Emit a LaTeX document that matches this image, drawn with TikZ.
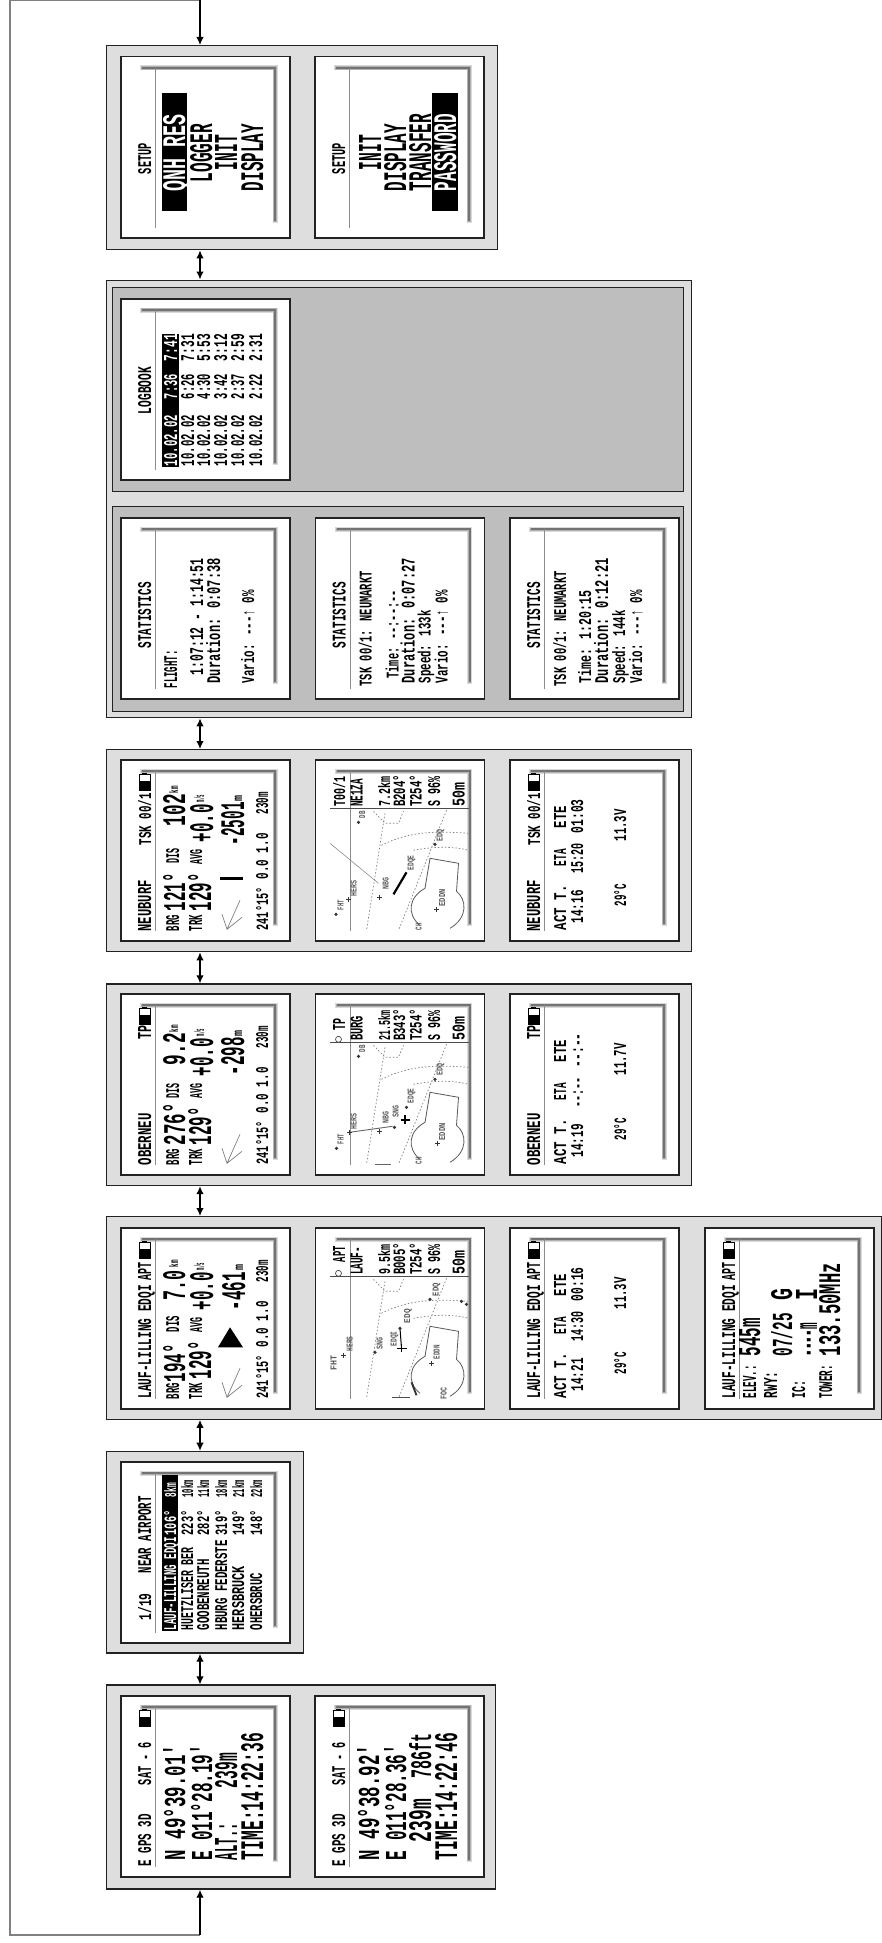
\documentclass[tikz,border=0pt]{standalone}
\usepackage{fontspec}
\usepackage{graphicx}
\newfontfamily\lcdf{Liberation Mono}
\usetikzlibrary{arrows.meta}
\definecolor{grpfill}{HTML}{DEDEDE}
\definecolor{innerfill}{HTML}{BEBEBE}
\definecolor{edgecol}{HTML}{222222}
\tikzset{
  groupbox/.style={draw=edgecol,line width=1.4pt,anchor=north west,inner sep=0pt,fill=grpfill},
  innerbox/.style={groupbox,fill=innerfill},
  screenbox/.style={draw=edgecol,line width=1.5pt,fill=white,anchor=north west,inner sep=0pt,minimum width=169pt,minimum height=181pt},
  lcd/.style={rotate=90,anchor=base west,inner sep=0pt,outer sep=0pt,font=\lcdf},
  link/.style={line width=1.3pt,black,{Latex[length=8pt,width=7.5pt]}-{Latex[length=8pt,width=7.5pt]}},
  linkin/.style={line width=1.3pt,black,-{Latex[length=8pt,width=7.5pt]}},
  loopline/.style={line width=1.7pt,black!50},
  thinmap/.style={black!45,line width=.6pt},
  dotmap/.style={black!50,line width=.7pt,dash pattern=on 1.5pt off 2pt},
  areamap/.style={black!65,line width=.8pt},
  wind/.style={black!50,line width=.7pt},
  mapdot/.style={fill=black!80}
}
\newcount\tn
% text: baseline dx, start dy, length, cap height
\newcommand{\Tx}[5]{\global\advance\tn by 1\relax
  \node[lcd] (t\the\tn) at (#1,#2) {\resizebox{#3pt}{#4pt}{\bfseries\vphantom{H}#5}};}
\newcommand{\Bx}[5]{\global\advance\tn by 1\relax
  \node[lcd] (t\the\tn) at (#1,#2) {\resizebox{#3pt}{#4pt}{\bfseries\vphantom{H}#5}};}
\newcommand{\Ml}[4]{\global\advance\tn by 1\relax
  \node[lcd,text=black!65] (t\the\tn) at (#1,#2) {\resizebox{#3pt}{6pt}{\bfseries\vphantom{H}#4}};}
\newcommand{\Scr}[4]{%
  \node[screenbox] (#1) at (#2,#3) {};
  \begin{scope}[shift={(#2,#3)}]
    \draw[black!15,line width=5pt] (20,12) -- (155,12) -- (155,167);
    \draw[black!30,line width=3.6pt] (21,12) -- (155,12) -- (155,166);
    \draw[black!55,line width=2pt] (22,12) -- (155,12) -- (155,165);
    \draw[black!45,line width=.7pt] (35.5,12) -- (35.5,172);
    #4
  \end{scope}}
\newcommand{\Batt}[1]{%
  \draw[black,line width=.7pt] (19,#1) rectangle (30,#1+16);
  \fill[black] (19,#1+7) rectangle (30,#1+16);
  \fill[black] (22,#1-1.5) rectangle (27,#1);}
\newcommand{\Hneu}{\Bx{31}{172}{51}{13}{NEUBURF}\Bx{31}{86}{52}{13}{TSK 00/1}\Batt{15}}
\newcommand{\Hobe}{\Bx{31}{172}{52}{13}{OBERNEU}\Bx{31}{46}{14}{13}{TP}\Batt{15}}
\newcommand{\Hlau}{\Bx{31}{171}{113}{13}{LAUF-LILLING EDQI}\Bx{31}{53}{18}{13}{APT}\Batt{15}}
% common lower part of a navigation screen
\newcommand{\NavCommon}{%
  \Bx{59}{172}{16}{13}{BRG}
  \Bx{82}{172}{16}{13}{TRK}
  \Tx{91}{152}{38}{23}{129°}
  \Bx{82}{105}{15}{12}{AVG}
  \Tx{93}{83}{38}{23}{+0.0}
  \Bx{84}{43}{7}{10}{m/s}
  \Bx{148}{171}{43}{12}{241°15°}
  \Bx{148}{120}{46}{12}{0.0 1.0}
  \Bx{148}{55}{22}{12}{230m}
  \draw[wind] (120,141) -- (107,170) (102,155) -- (107,170) -- (122,158);}
\newcommand{\Info}[5]{%
  \Bx{57}{171}{45}{12}{ACT T.}
  \Bx{57}{107}{17}{12}{ETA}
  \Bx{57}{69}{22}{12}{ETE}
  \Bx{74}{164}{33}{12}{#1}
  \Bx{74}{114}{30}{12}{#2}
  \Bx{74}{74}{34}{12}{#3}
  \Bx{117}{147}{22}{12}{#4}
  \Bx{117}{82}{32}{12}{#5}}
\newcommand{\MapTop}[5]{%
  \draw[black!70,line width=.8pt] (15.5,49) -- (154,49);
  \Bx{75.5}{47.5}{30}{12}{#1}
  \Bx{90.5}{47.5}{32}{12}{#2}
  \Bx{107}{47.5}{32}{12}{#3}
  \Bx{125.5}{47.5}{30}{12}{#4}
  \Bx{150}{47.5}{24}{12}{#5}}
\newcommand{\MapBase}{%
  \draw[dotmap] (70.5,54) -- (52,171);
  \draw[dotmap] (132,51) -- (84,171);
  \draw[dotmap] (67,86) .. controls (96,71) and (125,72) .. (154,74);
  \draw[dotmap] (99,91) .. controls (120,87) and (140,87) .. (154,91);
  \draw[dotmap] (59,52) -- (70.5,64) -- (84,64) -- (89,52);
  \draw[areamap] (105.5,166) .. controls (92,155) and (94,138) .. (110.5,129) -- (115.5,99) -- (144,104) -- (142,132) .. controls (152,140) and (154,158) .. (135.5,169);}
\newcommand{\Dot}[2]{\fill[mapdot] (#1,#2) circle (1.8pt);}
\newcommand{\Crs}[2]{\draw[black!80,line width=.7pt] (#1-2.5,#2) -- (#1+2.5,#2) (#1,#2-2.5) -- (#1,#2+2.5);}
\begin{document}
\begin{tikzpicture}[x=1pt,y=-1pt]
\useasboundingbox (0,0) rectangle (882,1943);
\fill[white] (0,0) rectangle (882,1943);
\coordinate (ax) at (200,0);
\coordinate (loopTL) at (10,0);
\coordinate (loopBL) at (10,1935);
\coordinate (loopBA) at (200,1935);
% groups
\node[groupbox,minimum width=391pt,minimum height=204pt] (gSetup) at (106,45) {};
\node[groupbox,minimum width=585pt,minimum height=437.5pt] (gLog) at (106,279.5) {};
\node[innerbox,minimum width=571pt,minimum height=204.5pt] (gLogA) at (112,286.5) {};
\node[innerbox,minimum width=571pt,minimum height=205.5pt] (gLogB) at (112,505.5) {};
\node[groupbox,minimum width=585pt,minimum height=202pt] (gNeu) at (106,749) {};
\node[groupbox,minimum width=585pt,minimum height=201.5pt] (gObe) at (106,983.3) {};
\node[groupbox,minimum width=775pt,minimum height=202.5pt] (gLau) at (106,1216) {};
\node[groupbox,minimum width=196.7pt,minimum height=201.6pt] (gNear) at (106,1450.7) {};
\node[groupbox,minimum width=389pt,minimum height=204pt] (gGps) at (106,1684.3) {};
% connectors
\draw[loopline] (ax) -- (loopTL) -- (loopBL) -- (loopBA);
\draw[linkin] (ax) -- (ax |- gSetup.north);
\draw[linkin] (loopBA) -- (ax |- gGps.south);
\draw[link] (ax |- gSetup.south) -- (ax |- gLog.north);
\draw[link] (ax |- gLog.south) -- (ax |- gNeu.north);
\draw[link] (ax |- gNeu.south) -- (ax |- gObe.north);
\draw[link] (ax |- gObe.south) -- (ax |- gLau.north);
\draw[link] (ax |- gLau.south) -- (ax |- gNear.north);
\draw[link] (ax |- gNear.south) -- (ax |- gGps.north);
% SETUP
\Scr{sSetA}{120}{56}{
  \Bx{31}{118}{31}{13}{SETUP}
  \fill[black] (42,37) rectangle (67,155);
  \Tx{65}{135}{77}{22}{\color{white}QNH RES}
  \Tx{92}{126}{58}{22}{LOGGER}
  \Tx{117}{114}{35}{22}{INIT}
  \Tx{143}{135}{67}{22}{DISPLAY}
}
\Scr{sSetB}{314}{56}{
  \Bx{31}{118}{31}{13}{SETUP}
  \Tx{67}{114}{35}{22}{INIT}
  \Tx{92}{135}{67}{22}{DISPLAY}
  \Tx{117}{135}{77}{22}{TRANSFER}
  \fill[black] (118,37) rectangle (144,155);
  \Tx{142}{135}{77}{22}{\color{white}PASSWORD}
}
% LOGBOOK
\Scr{sLog}{120}{298}{
  \Bx{31}{116}{47}{13}{LOGBOOK}
  \fill[black] (42,36) rectangle (59,169);
  \Bx{57}{168}{51}{13}{\color{white}10.02.02}
  \Bx{57}{101}{25}{13}{\color{white}7:36}
  \Bx{57}{63}{27}{13}{\color{white}7:41}
  \Bx{74}{168}{51}{13}{10.02.02}\Bx{74}{101}{25}{13}{6:26}\Bx{74}{63}{27}{13}{7:31}
  \Bx{90}{168}{51}{13}{10.02.02}\Bx{90}{101}{25}{13}{4:30}\Bx{90}{63}{27}{13}{5:53}
  \Bx{107}{168}{51}{13}{10.02.02}\Bx{107}{101}{25}{13}{3:42}\Bx{107}{63}{27}{13}{3:12}
  \Bx{124}{168}{51}{13}{10.02.02}\Bx{124}{101}{25}{13}{2:37}\Bx{124}{63}{27}{13}{2:59}
  \Bx{142}{168}{51}{13}{10.02.02}\Bx{142}{101}{25}{13}{2:22}\Bx{142}{63}{27}{13}{2:31}
}
% STATISTICS
\Scr{sStaA}{120}{517.3}{
  \Bx{31}{131}{66}{13}{STATISTICS}
  \Bx{57}{171}{38}{13}{FLIGHT:}
  \Bx{83}{158}{117}{13}{1:07:12 - 1:14:51}
  \Bx{100}{166}{125}{14}{Duration: 0:07:38}
  \Bx{134}{166}{93}{13}{Vario: ---↑ 0\%}
}
\Scr{sStaB}{314.5}{517.3}{
  \Bx{31}{131}{66}{13}{STATISTICS}
  \Bx{57}{169}{115}{13}{TSK 00/1: NEUMARKT}
  \Bx{84}{161}{88}{13}{Time: --:--:--}
  \Bx{100}{166}{125}{14}{Duration: 0:07:27}
  \Bx{116}{166}{73}{13}{Speed: 133k}
  \Bx{133}{166}{93}{13}{Vario: ---↑ 0\%}
}
\Scr{sStaC}{509}{517.3}{
  \Bx{31}{131}{66}{13}{STATISTICS}
  \Bx{57}{169}{115}{13}{TSK 00/1: NEUMARKT}
  \Bx{82}{166}{93}{13}{Time: 1:20:15}
  \Bx{99}{166}{125}{14}{Duration: 0:12:21}
  \Bx{116}{166}{73}{13}{Speed: 144k}
  \Bx{133}{166}{93}{13}{Vario: ---↑ 0\%}
}
% NEUBURF
\Scr{sNeuA}{120}{759.3}{
  \Hneu
  \NavCommon
  \Tx{65}{152}{38}{22}{121°}
  \Bx{59}{104}{15}{13}{DIS}
  \Tx{65}{67}{32}{22}{102}
  \Bx{58}{34}{7}{9}{km}
  \fill[black] (100,118) rectangle (123,120.5);
  \Tx{124}{86}{43}{23}{-2501}
  \Bx{122}{42}{6}{9}{m}
}
\Scr{sNeuB}{314.5}{759.3}{
  \MapTop{7.2km}{B204°}{T254°}{S 96\%}{50m}
  \Bx{30.5}{47.5}{30}{12}{T00/1}
  \Bx{48}{47.5}{28}{12}{NE1ZA}
  \MapBase
  \draw[thinmap] (15.5,84) -- (64,124);
  \draw[black,line width=2.2pt] (92,113) -- (79,135);
  \Dot{44}{63}\Ml{50.5}{59}{7}{DB}
  \Dot{120.5}{85}\Ml{128}{82}{12}{EDQ}
  \Ml{99}{111}{15}{EDQE}
  \Crs{122}{150}\Ml{130.5}{147}{17}{EDDN}
  \Crs{65}{138}\Ml{74}{130}{12}{NBG}
  \Crs{34}{140}\Ml{42}{137}{16}{HERS}
  \Dot{21.5}{155}\Ml{29}{151}{10}{FHT}
  \Ml{107}{171}{7}{CH}
}
\Scr{sNeuC}{509}{759.3}{
  \Hneu
  \Info{14:16}{15:20}{01:03}{29°C}{11.3V}
}
% OBERNEU
\Scr{sObeA}{120}{993.3}{
  \Hobe
  \NavCommon
  \Tx{65}{152}{42}{22}{276°}
  \Bx{59}{105}{15}{13}{DIS}
  \Tx{65}{72}{32}{22}{9.2}
  \Bx{58}{39}{7}{9}{km}
  \Tx{124}{82}{38}{23}{-298}
  \Bx{122}{43}{6}{9}{m}
}
\Scr{sObeB}{314.5}{993.3}{
  \MapTop{21.5km}{B343°}{T254°}{S 96\%}{50m}
  \Bx{30.5}{37}{12}{12}{TP}
  \Bx{48}{47.5}{25}{12}{BURG}
  \draw[black!70,line width=.7pt] (24,46) circle (3pt);
  \MapBase
  \draw[black!60,line width=.9pt] (78,133) -- (35,139);
  \draw[black!60,line width=.8pt] (60,171) -- (76,171);
  \draw[black,line width=1.2pt] (90.4,122) -- (90.4,131) (86,126.7) -- (95,126.7);
  \Dot{44}{63}\Ml{50.5}{59}{7}{DB}
  \Dot{120.5}{86}\Ml{128}{82}{12}{EDQ}
  \Dot{92}{114}\Ml{99}{110}{15}{EDQE}
  \Dot{80}{134}\Ml{84}{124}{12}{SNG}
  \Crs{65}{138}\Ml{74}{130}{12}{NBG}
  \Crs{35}{139}\Ml{42}{136}{16}{HERS}
  \Dot{22}{155}\Ml{29}{151}{10}{FHT}
  \Crs{123}{150}\Ml{130.5}{147}{17}{EDDN}
  \Ml{107}{171}{7}{CH}
}
\Scr{sObeC}{509}{993.3}{
  \Hobe
  \Info{14:19}{--:--}{--:--}{29°C}{11.7V}
}
% LAUF
\Scr{sLauA}{120}{1227.3}{
  \Hlau
  \NavCommon
  \Tx{65}{155}{38}{22}{194°}
  \Bx{59}{105}{16}{13}{DIS}
  \Tx{65}{73}{30}{22}{7.0}
  \Bx{58}{40}{7}{9}{km}
  \fill[black] (110,100) -- (98,120) -- (123,120) -- cycle;
  \Tx{125}{83}{38}{23}{-461}
  \Bx{123}{43}{6}{9}{m}
}
\Scr{sLauB}{314.5}{1227.3}{
  \MapTop{9.5km}{B005°}{T254°}{S 96\%}{50m}
  \Bx{30.5}{35}{16}{12}{APT}
  \Bx{48}{47.5}{28}{12}{LAUF-}
  \draw[black!70,line width=.7pt] (24,46) circle (3pt);
  \MapBase
  \draw[black,line width=1pt] (85.5,101) -- (87,121);
  \Dot{85.5}{101}
  \draw[black,line width=1.2pt] (87,117) -- (87,125) (82,121) -- (92,121);
  \Ml{95.5}{96}{14}{EDQ}
  \Ml{82}{119}{15}{EDQI}
  \Dot{60.5}{125}\Ml{68}{122}{12}{SNG}
  \Crs{29}{128}\Ml{38}{124}{15}{HERS}
  \Ml{22}{143}{15}{FHT}
  \Dot{115.5}{72}\Ml{124}{69}{13}{EDQ}
  \Dot{147}{74}\Dot{152}{77}
  \Crs{117}{136.4}\Ml{125}{132}{14}{EDDN}
  \draw[black!70,line width=1.1pt] (77,170) -- (95,170);
  \draw[black!80,line width=1.8pt] (97,155) -- (102,168);
  \Ml{132}{172}{12}{FOC}
}
\Scr{sLauC}{509}{1227.3}{
  \Hlau
  \Info{14:21}{14:30}{00:16}{29°C}{11.3V}
}
\Scr{sLauD}{704}{1227.3}{
  \Hlau
  \Bx{52}{171}{33}{13}{ELEV.:}
  \Tx{56}{129}{38}{21}{545m}
  \Bx{73}{171}{27}{13}{RWY:}
  \Tx{88}{129}{43}{21}{07/25}
  \Tx{88}{73}{12}{21}{G}
  \Bx{101}{171}{18}{13}{IC:}
  \Tx{113}{129}{33}{21}{----m}
  \Tx{113}{73}{12}{21}{I}
  \Bx{128}{171}{33}{13}{TOWER:}
  \Tx{136}{129}{93}{21}{133.50MHz}
}
% NEAR AIRPORT
\Scr{sNear}{120}{1461.3}{
  \Bx{31}{159}{27}{13}{1/19}
  \Bx{31}{112}{77}{13}{NEAR AIRPORT}
  \fill[black] (42,14) rectangle (58,170);
  \Bx{56}{169}{93}{12}{\color{white}LAUF-LILLING EDQI}
  \Bx{56}{74}{25}{12}{\color{white}106°}
  \Bx{56}{36}{14}{12}{\color{white}8km}
  \Bx{73}{169}{83}{12}{HUETZLISER BER}\Bx{73}{74}{25}{12}{223°}\Bx{73}{36}{17}{12}{10km}
  \Bx{89}{169}{71}{12}{GOOBENREUTH}\Bx{89}{74}{25}{12}{282°}\Bx{89}{36}{17}{12}{11km}
  \Bx{107}{169}{90}{12}{HBURG FEDERSTE}\Bx{107}{74}{25}{12}{319°}\Bx{107}{36}{17}{12}{18km}
  \Bx{124}{169}{64}{12}{HERSBRUCK}\Bx{124}{74}{25}{12}{149°}\Bx{124}{36}{17}{12}{21km}
  \Bx{142}{169}{57}{12}{OHERSBRUC}\Bx{142}{74}{25}{12}{148°}\Bx{142}{36}{17}{12}{22km}
}
% GPS
\Scr{sGpsA}{120}{1695}{
  \Bx{31}{171}{52}{13}{E GPS 3D}
  \Bx{31}{90}{43}{13}{SAT - 6}
  \Batt{15}
  \Tx{65}{165}{115}{22}{N 49°39.01'}
  \Tx{92}{165}{115}{22}{E 011°28.19'}
  \Tx{117}{165}{37}{22}{ALT.:}
  \Tx{117}{93}{35}{22}{239m}
  \Tx{143}{165}{127}{22}{TIME:14:22:36}
}
\Scr{sGpsB}{314}{1695}{
  \Bx{31}{171}{52}{13}{E GPS 3D}
  \Bx{31}{90}{43}{13}{SAT - 6}
  \Batt{15}
  \Tx{65}{165}{115}{22}{N 49°38.92'}
  \Tx{92}{165}{115}{22}{E 011°28.36'}
  \Tx{117}{147}{43}{22}{239m}
  \Tx{117}{83}{45}{22}{786ft}
  \Tx{143}{165}{127}{22}{TIME:14:22:46}
}
\end{tikzpicture}
\end{document}
